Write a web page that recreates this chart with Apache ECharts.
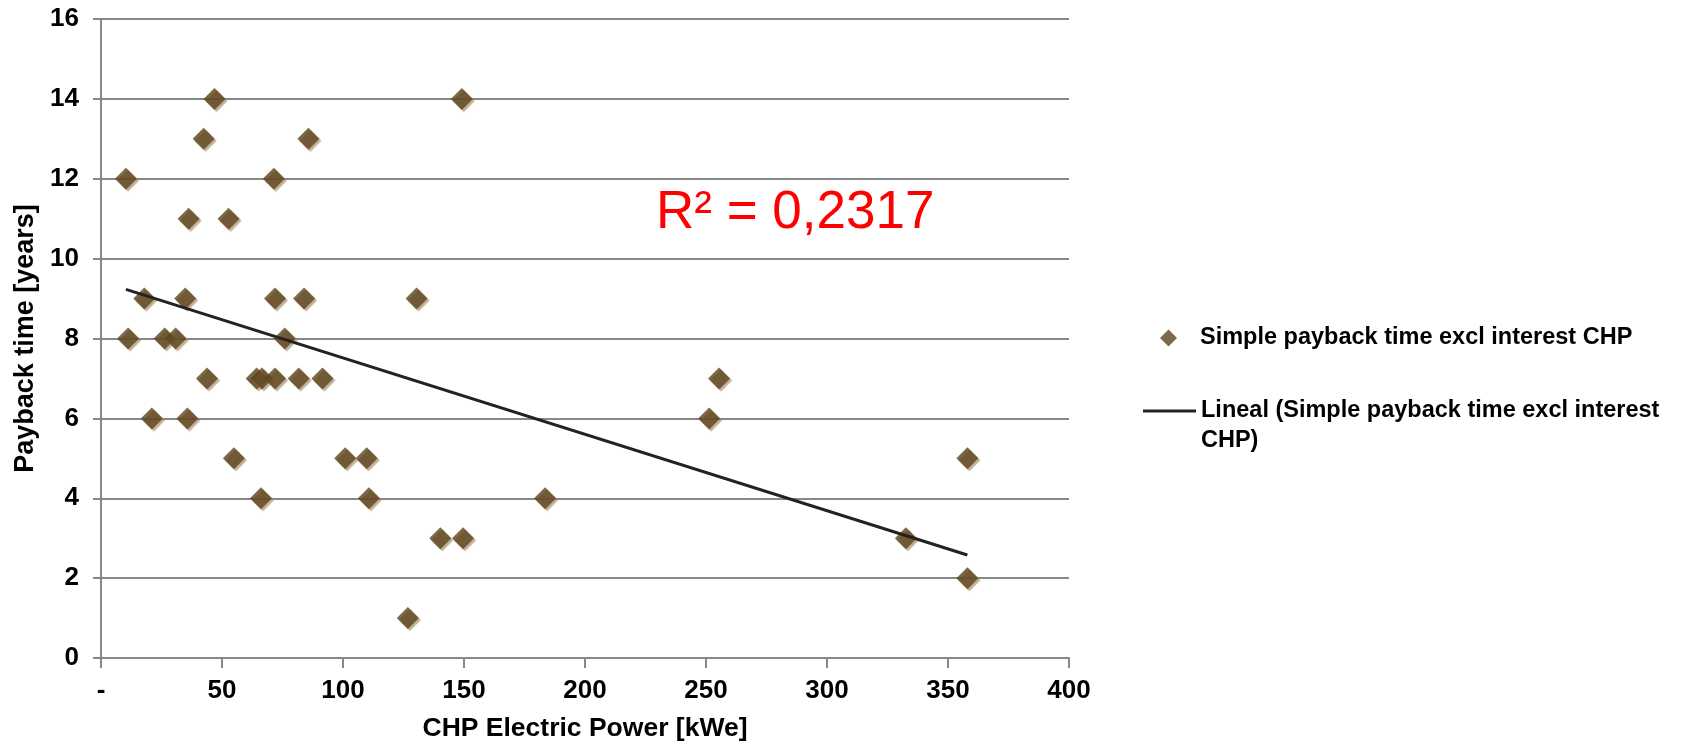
<!DOCTYPE html>
<html>
<head>
<meta charset="utf-8">
<script src="https://cdn.jsdelivr.net/npm/echarts@6/dist/echarts.min.js"></script>
<style>
html,body{margin:0;padding:0;background:#fff;}
#chart{width:1692px;height:746px;}
</style>
</head>
<body>
<div id="chart"></div>
<script>
// CHP electric power [kWe]
const powerKWe = [10.3, 11.2, 17.9, 21, 26.3, 30.8, 34.8, 35.7, 36.2, 42.4, 43.8, 46.9, 52.7, 54.9, 64.3, 66.1, 66.5, 71.4, 71.9, 71.9, 75.9, 81.7, 83.9, 85.7, 91.5, 100.9, 109.8, 110.7, 126.8, 130.4, 140.2, 149.1, 149.6, 183.5, 251.3, 255.4, 332.6, 358, 358];
// Simple payback time [years]
const paybackYears = [12, 8, 9, 6, 8, 8, 9, 6, 11, 13, 7, 14, 11, 5, 7, 4, 7, 12, 9, 7, 8, 7, 9, 13, 7, 5, 5, 4, 1, 9, 3, 14, 3, 4, 6, 7, 3, 5, 2];
// Linear trendline values read at its two ends (x = min and max power)
const trendlineYears = [9.23, 2.58];
const seriesName = 'Simple payback time excl interest CHP';
const trendName = 'Lineal (Simple payback time excl interest CHP)';
const r2Text = 'R² = 0,2317';
const xTicks = [0, 50, 100, 150, 200, 250, 300, 350, 400];
const yTicks = [0, 2, 4, 6, 8, 10, 12, 14, 16];

const points = powerKWe.map((x, i) => [x, paybackYears[i]]);
const xMin = Math.min(...powerKWe), xMax = Math.max(...powerKWe);
const trend = [[xMin, trendlineYears[0]], [xMax, trendlineYears[1]]];

const FONT = '"Liberation Sans", Arial, sans-serif';
const chart = echarts.init(document.getElementById('chart'), null, {renderer: 'canvas'});
chart.setOption({
  animation: false,
  backgroundColor: '#fff',
  textStyle: {fontFamily: FONT},
  title: {
    text: r2Text, left: 651, top: 182,
    textStyle: {color: '#ff0000', fontSize: 53, fontWeight: 'normal', fontFamily: FONT}
  },
  grid: {left: 101, right: 623, top: 19, bottom: 88, containLabel: false, outerBoundsMode: 'none'},
  legend: [
    {
      data: [{name: seriesName, icon: 'diamond'}],
      left: 1155, top: 321, itemWidth: 17, itemHeight: 17,
      textStyle: {fontSize: 23.5, lineHeight: 24, fontWeight: 'bold', color: '#000', fontFamily: FONT, padding: [0, 0, 0, 18]}
    },
    {
      data: [{name: trendName, icon: 'rect'}],
      left: 1138, top: 361, itemWidth: 53, itemHeight: 3,
      formatter: () => ' \nLineal (Simple payback time excl interest\nCHP)',
      textStyle: {fontSize: 23.5, lineHeight: 30, fontWeight: 'bold', color: '#000', fontFamily: FONT}
    }
  ],
  xAxis: {
    type: 'value', min: 0, max: 400, interval: 50,
    name: 'CHP Electric Power [kWe]', nameLocation: 'middle', nameGap: 57,
    nameTextStyle: {fontSize: 26.5, fontWeight: 'bold', color: '#000', fontFamily: FONT},
    axisLine: {show: true, lineStyle: {color: '#888', width: 2}},
    axisTick: {show: true, length: 10, lineStyle: {color: '#888', width: 2}},
    axisLabel: {fontSize: 26, fontWeight: 'bold', color: '#000', margin: 20, fontFamily: FONT,
      formatter: v => (v === 0 ? '-' : String(v))},
    splitLine: {show: false}
  },
  yAxis: {
    type: 'value', min: 0, max: 16, interval: 2,
    name: 'Payback time [years]', nameLocation: 'middle', nameGap: 58,
    nameTextStyle: {fontSize: 27, fontWeight: 'bold', color: '#000', fontFamily: FONT},
    axisLine: {show: true, lineStyle: {color: '#888', width: 2}},
    axisTick: {show: true, length: 8, lineStyle: {color: '#888', width: 2}},
    axisLabel: {fontSize: 26, fontWeight: 'bold', color: '#000', margin: 22, fontFamily: FONT},
    splitLine: {show: true, lineStyle: {color: '#888', width: 2}}
  },
  series: [
    {
      name: seriesName, type: 'scatter', data: points,
      symbol: 'diamond', symbolSize: 22,
      itemStyle: {color: '#5b431c', shadowColor: 'rgba(160,130,90,0.8)', shadowOffsetX: 2, shadowOffsetY: 2, shadowBlur: 1},
      z: 3
    },
    {
      name: trendName, type: 'line', data: trend,
      symbol: 'none', lineStyle: {color: '#222', width: 3},
      itemStyle: {color: '#222'}, z: 4
    }
  ]
});
</script>
</body>
</html>
